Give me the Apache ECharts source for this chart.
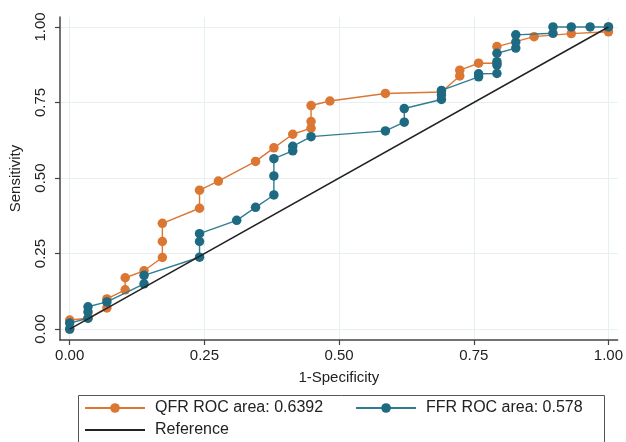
<!DOCTYPE html>
<html>
<head>
<meta charset="utf-8">
<script src="https://cdn.jsdelivr.net/npm/echarts@6/dist/echarts.min.js"></script>
<style>html,body{margin:0;padding:0;background:#fff}#c{width:626px;height:442px}</style>
</head>
<body>
<div id="c"></div>
<script>
var qfrX = [0, 0, 0.034, 0.069, 0.069, 0.103, 0.103, 0.138, 0.172, 0.172, 0.172, 0.241, 0.241, 0.276, 0.345, 0.379, 0.414, 0.448, 0.448, 0.448, 0.483, 0.586, 0.690, 0.724, 0.724, 0.759, 0.793, 0.793, 0.862, 0.931, 1, 1];
var qfrY = [0, 0.03, 0.036, 0.07, 0.10, 0.13, 0.17, 0.193, 0.237, 0.29, 0.35, 0.40, 0.46, 0.49, 0.555, 0.60, 0.645, 0.665, 0.687, 0.74, 0.755, 0.78, 0.785, 0.838, 0.857, 0.88, 0.88, 0.935, 0.968, 0.978, 0.984, 1];
var ffrX = [0, 0, 0.034, 0.034, 0.034, 0.069, 0.138, 0.138, 0.241, 0.241, 0.241, 0.310, 0.345, 0.379, 0.379, 0.379, 0.414, 0.414, 0.448, 0.586, 0.621, 0.621, 0.690, 0.690, 0.690, 0.759, 0.759, 0.793, 0.793, 0.793, 0.793, 0.828, 0.828, 0.828, 0.897, 0.897, 0.931, 0.966, 1];
var ffrY = [0, 0.02, 0.036, 0.057, 0.074, 0.09, 0.15, 0.178, 0.238, 0.29, 0.316, 0.36, 0.403, 0.444, 0.507, 0.564, 0.59, 0.605, 0.637, 0.656, 0.685, 0.73, 0.76, 0.775, 0.79, 0.835, 0.845, 0.846, 0.874, 0.885, 0.913, 0.93, 0.95, 0.974, 0.979, 1, 1, 1, 1];
var refX = [0, 1];
var refY = [0, 1];
var tickValues = [0, 0.25, 0.5, 0.75, 1];
var names = ['QFR ROC area: 0.6392', 'FFR ROC area: 0.578', 'Reference'];

function pairs(xs, ys) { return xs.map(function (x, i) { return [x, ys[i]]; }); }

var FONT = '"Liberation Sans", Arial, sans-serif';
var orange = '#dc7633';
var blue = '#1e6a82';

var legendCommon = {
  orient: 'horizontal', itemWidth: 60, itemHeight: 12, padding: 0,
  textStyle: {fontSize: 16, color: '#222', fontFamily: FONT, padding: [0, 0, 0, 5]}
};

var chart = echarts.init(document.getElementById('c'), null, {renderer: 'canvas'});
chart.setOption({
  animation: false,
  backgroundColor: '#fff',
  textStyle: {fontFamily: FONT},
  grid: {left: 57, right: 6, top: 17, bottom: 102, containLabel: false},
  xAxis: {
    type: 'value', min: -0.018, max: 1.017,
    name: '1-Specificity', nameLocation: 'middle', nameGap: 30,
    nameTextStyle: {fontSize: 15, color: '#222', fontFamily: FONT},
    axisLine: {show: true, onZero: false, lineStyle: {color: '#444', width: 1.5}},
    axisTick: {show: true, length: 5, customValues: tickValues, lineStyle: {color: '#444', width: 1.2}},
    axisLabel: {customValues: tickValues, fontSize: 15, color: '#222', margin: 8, fontFamily: FONT,
      formatter: function (v) { return v.toFixed(2); }},
    splitLine: {show: true, lineStyle: {color: '#e6eff2', width: 1}}
  },
  yAxis: {
    type: 'value', min: -0.036, max: 1.033,
    name: 'Sensitivity', nameLocation: 'middle', nameGap: 37,
    nameTextStyle: {fontSize: 15, color: '#222', fontFamily: FONT},
    axisLine: {show: true, onZero: false, lineStyle: {color: '#444', width: 1.5}},
    axisTick: {show: true, length: 5, customValues: tickValues, lineStyle: {color: '#444', width: 1.2}},
    axisLabel: {customValues: tickValues, fontSize: 15, color: '#222', margin: 12, rotate: 90, fontFamily: FONT,
      formatter: function (v) { return v.toFixed(2); }},
    splitLine: {show: true, lineStyle: {color: '#e6eff2', width: 1}}
  },
  legend: [
    Object.assign({}, legendCommon, {left: 84, top: 400, itemGap: 32, data: [names[0], names[1]]}),
    Object.assign({}, legendCommon, {left: 84, top: 422, data: [
      {name: names[2], itemStyle: {color: 'rgba(0,0,0,0)', borderColor: 'rgba(0,0,0,0)', borderWidth: 0}}
    ]})
  ],
  graphic: [{
    type: 'rect', left: 76, top: 393, silent: true,
    shape: {width: 526, height: 70},
    style: {fill: 'none', stroke: '#555', lineWidth: 1}
  }],
  series: [
    {name: names[0], type: 'line', data: pairs(qfrX, qfrY), symbol: 'circle', symbolSize: 9.5,
      itemStyle: {color: orange}, lineStyle: {color: orange, width: 1.4}, clip: false, z: 2},
    {name: names[1], type: 'line', data: pairs(ffrX, ffrY), symbol: 'circle', symbolSize: 9.5,
      itemStyle: {color: blue}, lineStyle: {color: '#2f7d93', width: 1.4}, clip: false, z: 3},
    {name: names[2], type: 'line', data: pairs(refX, refY), symbol: 'none',
      itemStyle: {color: '#222'}, lineStyle: {color: '#222', width: 1.5}, clip: false, z: 4}
  ]
});
</script>
</body>
</html>
